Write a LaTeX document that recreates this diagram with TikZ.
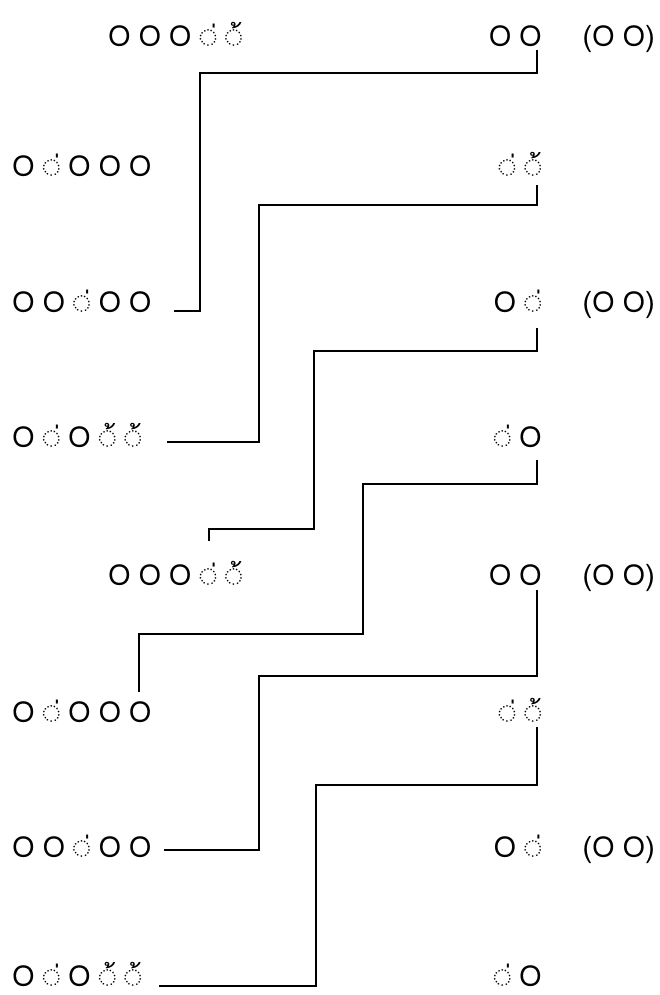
\documentclass[tikz,border=0pt]{standalone}
\usepackage{fontspec}
\newfontfamily\thaifont[Script=Thai, WordSpace=0.8]{Loma}
\usetikzlibrary{positioning}

\begin{document}
\begin{tikzpicture}[
  x=1pt, y=-1pt,
  verse/.style={
    inner sep=0pt, anchor=base west,
    font=\thaifont\fontsize{29}{32}\selectfont
  },
  ending/.style={verse, anchor=base east},
  rhyme/.style={line width=1.6pt, black}
]
\useasboundingbox (0,0) rectangle (659,995);

% First stanza
\node[verse]  (l1) at (108,47)  {O O O ◌่ ◌้};
\node[ending] (r1) at (542,47)  {O O};
\node[ending] (p1) at (655,47)  {(O O)};
\node[verse]  (l2) at (12,177)  {O ◌่ O O O};
\node[ending] (r2) at (542,177) {◌่ ◌้};
\node[verse]  (l3) at (12,312)  {O O ◌่ O O};
\node[ending] (r3) at (542,312) {O ◌่};
\node[ending] (p3) at (655,312) {(O O)};
\node[verse]  (l4) at (12,447)  {O ◌่ O ◌้ ◌้};
\node[ending] (r4) at (542,447) {◌่ O};

% Second stanza
\node[verse]  (l5) at (108,585) {O O O ◌่ ◌้};
\node[ending] (r5) at (542,585) {O O};
\node[ending] (p5) at (655,585) {(O O)};
\node[verse]  (l6) at (12,722)  {O ◌่ O O O};
\node[ending] (r6) at (542,722) {◌่ ◌้};
\node[verse]  (l7) at (12,857)  {O O ◌่ O O};
\node[ending] (r7) at (542,857) {O ◌่};
\node[ending] (p7) at (655,857) {(O O)};
\node[verse]  (l8) at (12,986)  {O ◌่ O ◌้ ◌้};
\node[ending] (r8) at (542,986) {◌่ O};

% free ends above a syllable
\coordinate (m5) at (209,541);
\coordinate (m6) at (139,692);

% Rhyme links
\draw[rhyme] ([xshift=-5pt,yshift=-3pt]r1.base east) |- (200,73)
  |- ([xshift=22pt,yshift=1pt]l3.base east);
\draw[rhyme] ([xshift=-5pt,yshift=-8pt]r2.base east) |- (259,205)
  |- ([xshift=25pt,yshift=5pt]l4.base east);
\draw[rhyme] ([xshift=-5pt,yshift=-16pt]r3.base east) |- (314,351)
  |- (209,529) -- (m5);
\draw[rhyme] ([xshift=-5pt,yshift=-13pt]r4.base east) |- (363,484)
  |- (139,634) -- (m6);
\draw[rhyme] ([xshift=-5pt,yshift=-5pt]r5.base east) |- (259,676)
  |- ([xshift=12pt,yshift=7pt]l7.base east);
\draw[rhyme] ([xshift=-5pt,yshift=-5pt]r6.base east) |- (316,785)
  |- ([xshift=17pt,yshift=0pt]l8.base east);

\end{tikzpicture}
\end{document}
